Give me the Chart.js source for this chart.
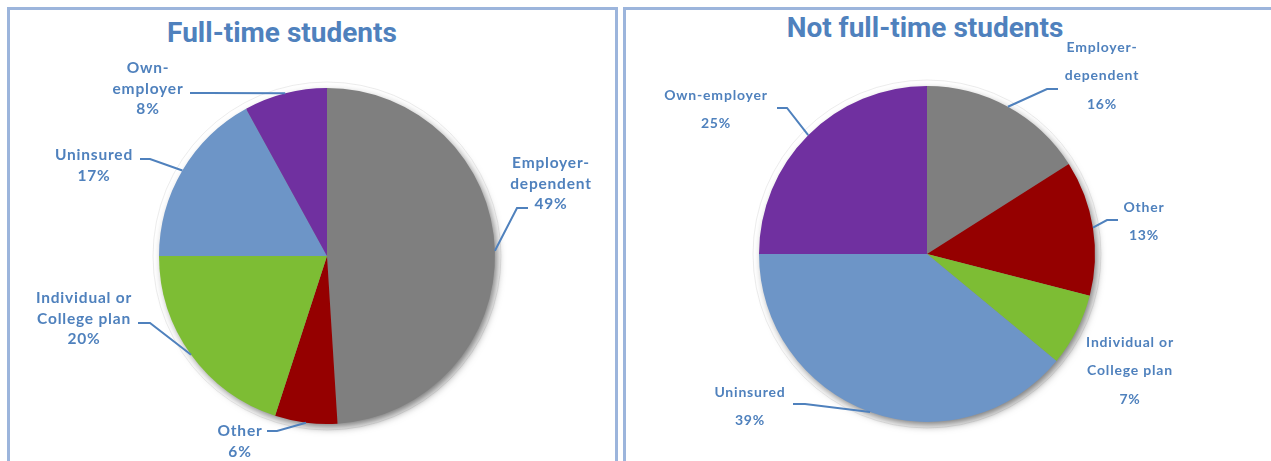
<!DOCTYPE html>
<html>
<head>
<meta charset="utf-8">
<script src="https://cdn.jsdelivr.net/npm/chart.js@4/dist/chart.umd.min.js"></script>
<style>
  html,body{margin:0;padding:0;background:#fff;}
  #wrap{position:relative;width:1271px;height:461px;overflow:hidden;background:#fff;}
  .panel{position:absolute;border:3px solid #9cb5dc;box-sizing:border-box;}
  .title{position:absolute;font-family:Roboto,"Open Sans",sans-serif;font-weight:700;font-size:28px;color:#4f81bd;text-align:center;letter-spacing:0px;white-space:nowrap;}
  canvas{position:absolute;left:0;top:0;}
</style>
</head>
<body>
<div id="wrap">
  <div class="panel" style="left:7px;top:7px;width:611px;height:520px;"></div>
  <div class="panel" style="left:623px;top:7px;width:700px;height:520px;"></div>
  <div class="title" id="t1" style="left:132px;top:16px;width:300px;">Full-time students</div>
  <div class="title" id="t2" style="left:775px;top:11px;width:300px;">Not full-time students</div>
  <canvas id="c1" width="1271" height="461"></canvas>
  <canvas id="c2" width="1271" height="461"></canvas>
</div>
<script>
// ---- data ----
const categoriesFT  = ['Employer-dependent','Other','Individual or College plan','Uninsured','Own-employer'];
const valuesFT      = [49, 6, 20, 17, 8];
const labelLinesFT  = [['Employer-','dependent'], ['Other'], ['Individual or','College plan'], ['Uninsured'], ['Own-','employer']];

const categoriesNFT = ['Employer-dependent','Other','Individual or College plan','Uninsured','Own-employer'];
const valuesNFT     = [16, 13, 7, 39, 25];
const labelLinesNFT = [['Employer-','dependent'], ['Other'], ['Individual or','College plan'], ['Uninsured'], ['Own-employer']];

const sliceColors = ['#7f7f7f', '#950000', '#7dbd34', '#6d95c7', '#7030a0'];
const textColor = '#4f81bd';

// ---- label layout (offsets from pie centre) ----
// tx,ty: centre of first text line; lead: [start, elbow] points or null
const layoutFT = [
  {tx:224, ty:-93, lead:[[201,-48],[190,-48]]},
  {tx:-87, ty:175, lead:[[-60,175],[-50,175]]},
  {tx:-243, ty:42, lead:[[-189,67],[-177,67]]},
  {tx:-233, ty:-101, lead:[[-187,-97],[-177,-97]]},
  {tx:-179, ty:-188, lead:[[-137,-163],[-120,-163]]}
];
const layoutNFT = [
  {tx:175, ty:-207, lead:[[131,-165],[120,-165]]},
  {tx:217, ty:-47, lead:[[191,-34],[180,-34]]},
  {tx:203, ty:88, lead:null},
  {tx:-177, ty:138, lead:[[-134,150],[-122,150]]},
  {tx:-211, ty:-159, lead:[[-150,-146],[-140,-146]]}
];

const pieDecor = {
  id:'pieDecor',
  beforeDatasetsDraw(chart){
    const arc = chart.getDatasetMeta(0).data[0];
    if(!arc) return;
    const {x,y,outerRadius} = arc.getProps(['x','y','outerRadius'], true);
    const ctx = chart.ctx;
    ctx.save();
    ctx.beginPath();
    ctx.arc(x, y, outerRadius + 6, 0, Math.PI*2);
    ctx.strokeStyle = 'rgba(200,200,200,0.35)';
    ctx.lineWidth = 1;
    ctx.stroke();
    ctx.shadowColor = 'rgba(0,0,0,0.55)';
    ctx.shadowBlur = 9;
    ctx.shadowOffsetX = 3;
    ctx.shadowOffsetY = 4;
    ctx.beginPath();
    ctx.arc(x, y, outerRadius - 1, 0, Math.PI*2);
    ctx.fillStyle = '#888';
    ctx.fill();
    ctx.restore();
  },
  afterDatasetsDraw(chart, args, opts){
    const meta = chart.getDatasetMeta(0);
    const ctx = chart.ctx;
    const vals = chart.data.datasets[0].data;
    meta.data.forEach((arc, i) => {
      const p = arc.getProps(['x','y','startAngle','endAngle','outerRadius'], true);
      const mid = (p.startAngle + p.endAngle) / 2;
      const ax = p.x + Math.cos(mid) * p.outerRadius;
      const ay = p.y + Math.sin(mid) * p.outerRadius;
      const L = opts.layout[i];
      const lines = opts.lines[i].concat([vals[i] + '%']);
      ctx.save();
      if (L.lead) {
        ctx.beginPath();
        ctx.moveTo(p.x + L.lead[0][0], p.y + L.lead[0][1]);
        ctx.lineTo(p.x + L.lead[1][0], p.y + L.lead[1][1]);
        ctx.lineTo(ax, ay);
        ctx.strokeStyle = textColor;
        ctx.lineWidth = 2;
        ctx.stroke();
      }
      ctx.font = 'bold ' + opts.fontSize + 'px Lato, "Open Sans", sans-serif';
      ctx.letterSpacing = opts.spacing;
      ctx.fillStyle = textColor;
      ctx.textAlign = 'center';
      ctx.textBaseline = 'middle';
      lines.forEach((t, k) => {
        ctx.fillText(t, p.x + L.tx, p.y + L.ty + k * opts.lineHeight);
      });
      ctx.restore();
    });
  }
};

function makePie(id, cats, vals, lines, layout, pad, fontSize, lineHeight) {
  return new Chart(document.getElementById(id), {
    type: 'pie',
    data: {
      labels: cats,
      datasets: [{ data: vals, backgroundColor: sliceColors, borderWidth: 0, hoverOffset: 0 }]
    },
    options: {
      responsive: false,
      animation: false,
      devicePixelRatio: 1,
      layout: { padding: pad },
      events: [],
      plugins: {
        legend: { display: false },
        tooltip: { enabled: false },
        title: { display: false },
        pieDecor: { layout: layout, lines: lines, fontSize: fontSize, lineHeight: lineHeight, spacing: '0.8px' }
      }
    },
    plugins: [pieDecor]
  });
}

makePie('c1', categoriesFT, valuesFT, labelLinesFT, layoutFT,
  {left:159, top:88, right:776, bottom:37}, 15.5, 20.5);
makePie('c2', categoriesNFT, valuesNFT, labelLinesNFT, layoutNFT,
  {left:759, top:86, right:176, bottom:39}, 14, 28.5);
</script>
</body>
</html>
